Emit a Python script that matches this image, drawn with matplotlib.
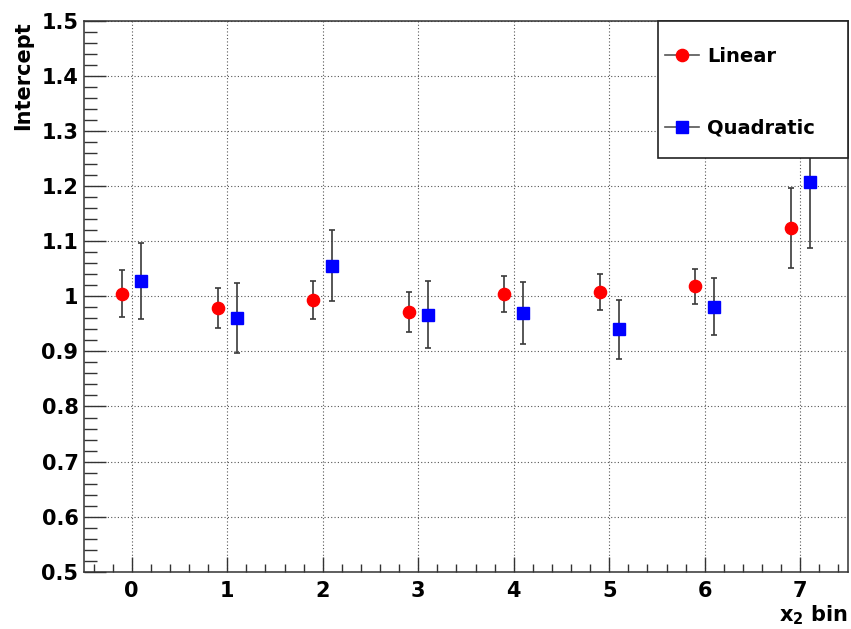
import numpy as np
import matplotlib.pyplot as plt
from matplotlib.lines import Line2D
from matplotlib.patches import Rectangle
from matplotlib.ticker import MultipleLocator, FormatStrFormatter

plt.rcParams['font.family'] = ['DejaVu Sans']
plt.rcParams['font.weight'] = 'bold'
plt.rcParams['mathtext.fontset'] = 'custom'
plt.rcParams['mathtext.bf'] = 'DejaVu Sans:bold'
plt.rcParams['mathtext.rm'] = 'DejaVu Sans:bold'

# values
bins = [0, 1, 2, 3, 4, 5, 6, 7]
linear = [1.005, 0.979, 0.993, 0.971, 1.004, 1.008, 1.018, 1.124]
linear_err = [0.043, 0.037, 0.034, 0.036, 0.033, 0.033, 0.032, 0.072]
quad = [1.028, 0.961, 1.056, 0.967, 0.970, 0.940, 0.981, 1.207]
quad_err = [0.069, 0.063, 0.064, 0.060, 0.056, 0.053, 0.052, 0.120]
labels = ['Linear', 'Quadratic']

x = np.array(bins, dtype=float)

fig = plt.figure(figsize=(8.51, 6.29), dpi=100)
ax = fig.add_axes([0.0987, 0.0911, 0.8978, 0.8755])

ebar = dict(fmt='none', ecolor='#3a3a3a', elinewidth=1.2, capsize=2.5, capthick=1.2, zorder=3)
ax.errorbar(x - 0.1, linear, yerr=linear_err, **ebar)
ax.errorbar(x + 0.1, quad, yerr=quad_err, **ebar)
ax.plot(x - 0.1, linear, 'o', color='#ff0000', ms=8.8, mec='#ff0000', zorder=4)
ax.plot(x + 0.1, quad, 's', color='#0000ff', ms=8.2, mec='#0000ff', zorder=4)

ax.set_xlim(-0.5, 7.5)
ax.set_ylim(0.5, 1.5)
ax.xaxis.set_major_locator(MultipleLocator(1))
ax.xaxis.set_minor_locator(MultipleLocator(0.2))
ax.yaxis.set_major_locator(MultipleLocator(0.1))
ax.yaxis.set_minor_locator(MultipleLocator(0.02))
ax.yaxis.set_major_formatter(FormatStrFormatter('%g'))

ax.tick_params(which='both', direction='in', top=False, right=False, colors='#333333', width=1)
ax.tick_params(axis='y', which='major', length=16, pad=4, labelsize=15)
ax.tick_params(axis='y', which='minor', length=9)
ax.tick_params(axis='x', which='major', length=11, pad=7, labelsize=15)
ax.tick_params(axis='x', which='minor', length=6)
ax.tick_params(labelcolor='black')

ax.grid(True, which='major', color='#555555', linestyle=(0, (1, 2)), linewidth=0.8)
ax.set_axisbelow(True)
for s in ax.spines.values():
    s.set_color('#333333')
    s.set_linewidth(1.1)

ax.set_ylabel('Intercept', fontsize=15, fontweight='bold', loc='top')
ax.yaxis.set_label_coords(-0.067, 1.0)
ax.set_xlabel(r'$\mathbf{x_2}$ bin', fontsize=15, fontweight='bold', loc='right')
ax.xaxis.set_label_coords(1.0, -0.057)

# legend box like ROOT's TLegend
ax.add_patch(Rectangle((0.751, 0.751), 0.249, 0.249, transform=ax.transAxes,
                       facecolor='white', edgecolor='#222222', lw=1.2, zorder=9, clip_on=False))
handles = [
    Line2D([], [], color='#555555', lw=1.2, marker='o', ms=8.8, mfc='#ff0000', mec='#ff0000'),
    Line2D([], [], color='#555555', lw=1.2, marker='s', ms=8.2, mfc='#0000ff', mec='#0000ff'),
]
leg = ax.legend(handles, labels, loc='upper left', bbox_to_anchor=(0.7605, 0.953),
                borderaxespad=0, borderpad=0, frameon=False,
                prop={'size': 14, 'weight': 'bold'},
                labelspacing=2.72, handlelength=1.75, handletextpad=0.4)
leg.set_zorder(10)

fig.savefig('out.png', dpi=100)
